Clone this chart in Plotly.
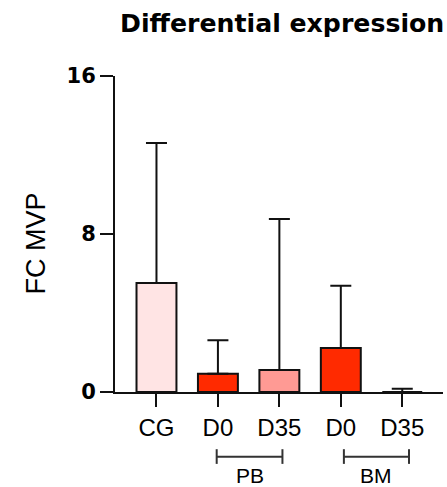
import plotly.graph_objects as go

# Fold-change values per group (mean and upper SD)
tick_labels = ["CG", "D0", "D35", "D0", "D35"]
means = [5.52, 0.93, 1.11, 2.23, 0.0]
sd_upper = [7.09, 1.69, 7.65, 3.15, 0.17]
bar_colors = ["#ffe4e4", "#ff2a00", "#ff9a94", "#ff2a00", "#ff9a94"]
groups = [("PB", 0.98, 2.05), ("BM", 3.05, 4.11)]
y_ticks = [0, 8, 16]

positions = list(range(len(tick_labels)))

fig = go.Figure()
fig.add_trace(go.Bar(
    x=positions,
    y=means,
    width=0.65,
    marker=dict(color=bar_colors, line=dict(color="#111111", width=2)),
    error_y=dict(type="data", symmetric=False, array=sd_upper,
                 arrayminus=[0] * len(means), color="#111111",
                 thickness=2, width=10.5),
    showlegend=False,
))

# Group brackets beneath the category labels
for name, x0, x1 in groups:
    fig.add_shape(type="line", xref="x", yref="paper", x0=x0, x1=x1,
                  y0=-0.2047, y1=-0.2047, line=dict(color="#333333", width=2))
    for xe in (x0, x1):
        fig.add_shape(type="line", xref="x", yref="paper", x0=xe, x1=xe,
                      y0=-0.181, y1=-0.2275, line=dict(color="#333333", width=2))
    fig.add_annotation(text=name, xref="x", yref="paper", x=(x0 + x1) / 2,
                       y=-0.263, showarrow=False, yanchor="middle",
                       font=dict(family="Liberation Sans, Arial", size=21, color="#000"))

fig.add_annotation(text="<b>Differential expression</b>", xref="paper", yref="paper",
                   x=0.51, y=1.165, showarrow=False, yanchor="middle",
                   font=dict(family="DejaVu Sans", size=25.2, color="#000"))

fig.add_annotation(text="FC MVP", xref="paper", yref="paper", x=-0.238, y=0.47,
                   textangle=-90, showarrow=False, xanchor="center", yanchor="middle",
                   font=dict(family="Liberation Sans, Arial", size=27, color="#000"))

fig.update_layout(
    width=447, height=487,
    margin=dict(l=115, r=4, t=76, b=95),
    paper_bgcolor="white", plot_bgcolor="white",
    xaxis=dict(range=[-0.675, 4.663], tickvals=positions, ticktext=tick_labels,
               showline=True, linecolor="#111111", linewidth=2,
               ticks="outside", ticklen=13, tickwidth=2, tickcolor="#111111",
               showgrid=False, zeroline=False,
               tickfont=dict(family="Liberation Sans, Arial", size=24, color="#000")),
    yaxis=dict(range=[0, 16], tickvals=y_ticks, showline=True, linecolor="#111111",
               linewidth=2, ticks="outside", ticklen=13, tickwidth=2,
               tickcolor="#111111", showgrid=False, zeroline=False,
               tickfont=dict(family="DejaVu Sans", size=21, color="#000", weight="bold")),
)

fig.write_html("out.html")
